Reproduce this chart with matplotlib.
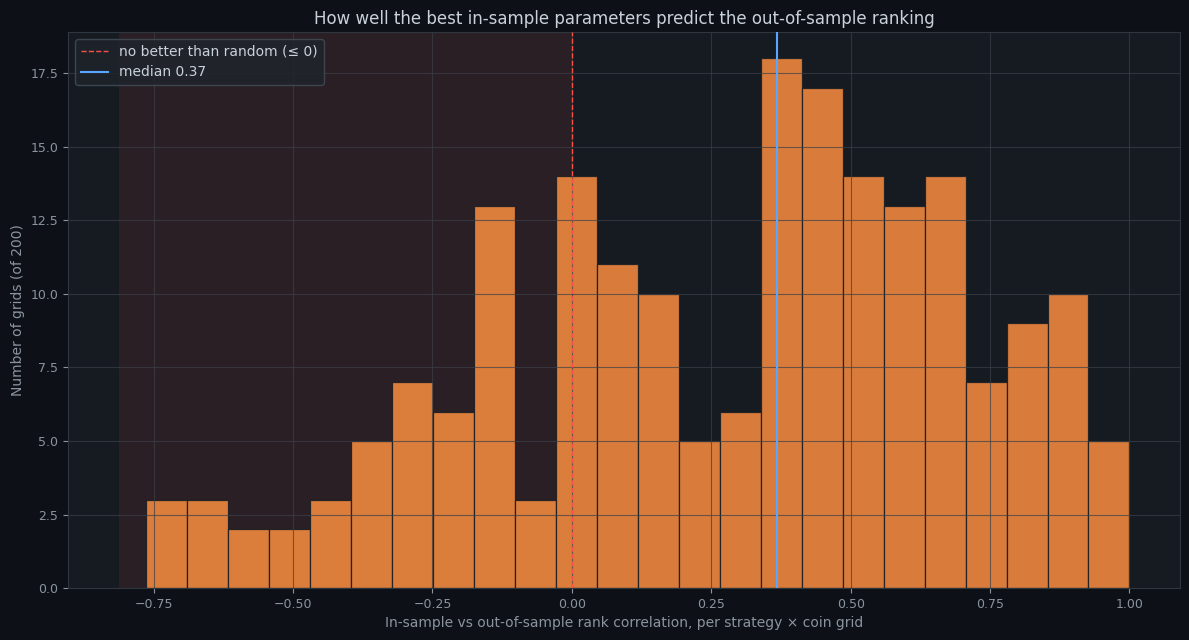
import numpy as np
import matplotlib.pyplot as plt

# histogram of rank correlations (24 bins, -0.763 .. 1.0)
bin_lo = -0.763
bin_hi = 1.0
counts = [3, 3, 2, 2, 3, 5, 7, 6, 13, 3, 14, 11, 10, 5, 6, 18, 17, 14, 13, 14, 7, 9, 10, 5]
median_corr = 0.368
n_grids = 200

edges = np.linspace(bin_lo, bin_hi, len(counts) + 1)

BG = '#0d1117'
AX_BG = '#161b22'
TXT = '#c9d1d9'
MUTED = '#8b949e'
GRID = '#30363d'

fig, ax = plt.subplots(figsize=(11.89, 6.4), dpi=100)
fig.patch.set_facecolor(BG)
ax.set_facecolor(AX_BG)

ax.axvspan(bin_lo - 0.05, 0, color='#f85149', alpha=0.09, lw=0, zorder=0.5)
ax.bar(edges[:-1], counts, width=np.diff(edges), align='edge',
       color='#f0883e', alpha=0.9, edgecolor='#1b1f24', linewidth=0.9, zorder=1)
ax.axvline(0, color='#f85149', ls='--', lw=1, zorder=3, label='no better than random (≤ 0)')
ax.axvline(median_corr, color='#58a6ff', lw=1.5, zorder=3, label=f'median {median_corr:.2f}')

# grid sits over the bars (default 'line' ordering)
ax.grid(True, color='#3a4048', lw=0.8, alpha=0.7)
for s in ax.spines.values():
    s.set_color(GRID)
ax.tick_params(colors=MUTED, labelsize=9)

ax.set_title('How well the best in-sample parameters predict the out-of-sample ranking', color=TXT, fontsize=12)
ax.set_xlabel('In-sample vs out-of-sample rank correlation, per strategy × coin grid', color=MUTED, fontsize=10)
ax.set_ylabel(f'Number of grids (of {n_grids})', color=MUTED, fontsize=10)

leg = ax.legend(loc='upper left', facecolor='#1f242b', edgecolor='#444c56', fontsize=10, framealpha=0.85)
for t in leg.get_texts():
    t.set_color(TXT)

fig.subplots_adjust(left=0.0572, right=0.9924, top=0.95, bottom=0.081)
fig.savefig('out.png', facecolor=BG)
